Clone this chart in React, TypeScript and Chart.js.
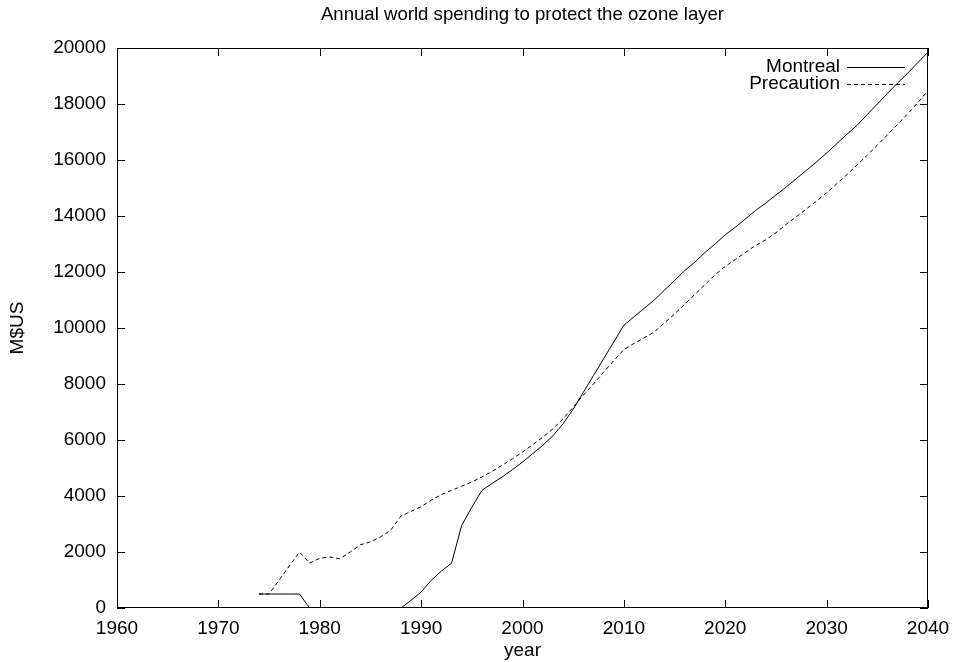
import React, { useEffect, useRef } from "react";
import { Chart, registerables } from "chart.js";

Chart.register(...registerables);

const TITLE = "Annual world spending to protect the ozone layer";
const X_LABEL = "year";
const Y_LABEL = "M$US";
const SERIES_NAMES = ["Montreal", "Precaution"];

const years = [
  1974, 1975, 1976, 1977, 1978, 1979, 1980, 1981, 1982, 1983,
  1984, 1985, 1986, 1987, 1988, 1989, 1990, 1991, 1992, 1993,
  1994, 1995, 1996, 1997, 1998, 1999, 2000, 2001, 2002, 2003,
  2004, 2005, 2006, 2007, 2008, 2009, 2010, 2011, 2012, 2013,
  2014, 2015, 2016, 2017, 2018, 2019, 2020, 2021, 2022, 2023,
  2024, 2025, 2026, 2027, 2028, 2029, 2030, 2031, 2032, 2033,
  2034, 2035, 2036, 2037, 2038, 2039, 2040,
];

const montreal = [
  500, 500, 500, 500, 500, 0, 0, 0, 0, 0,
  0, 0, 0, 0, 0, 275, 570, 990, 1320, 1600,
  2950, 3600, 4200, 4450, 4680, 4940, 5210, 5510, 5810, 6150,
  6580, 7100, 7700, 8300, 8900, 9500, 10100, 10400, 10700, 11000,
  11350, 11700, 12050, 12350, 12700, 13000, 13330, 13600, 13900, 14200,
  14460, 14750, 15030, 15330, 15630, 15930, 16250, 16580, 16920, 17240,
  17620, 18000, 18380, 18750, 19100, 19480, 19850,
];

const precaution = [
  500, 500, 1000, 1500, 2000, 1600, 1780, 1820, 1760, 2000,
  2260, 2360, 2540, 2780, 3280, 3450, 3620, 3850, 4050, 4200,
  4350, 4500, 4680, 4880, 5100, 5330, 5570, 5830, 6100, 6400,
  6760, 7170, 7600, 8000, 8420, 8830, 9230, 9450, 9650, 9860,
  10180, 10500, 10850, 11200, 11550, 11900, 12200, 12450, 12700, 12950,
  13150, 13400, 13700, 13970, 14250, 14530, 14830, 15150, 15480, 15820,
  16170, 16530, 16900, 17270, 17650, 18050, 18480,
];

const X_MIN = 1960;
const X_MAX = 2040;
const X_STEP = 10;
const Y_MIN = 0;
const Y_MAX = 20000;
const Y_STEP = 2000;

const FONT = "'Liberation Sans', Arial, Helvetica, sans-serif";
const FS = 19;
const TITLE_FS = 18.6;

const frameAndLegend = {
  id: "frameAndLegend",
  afterDatasetsDraw(chart: any) {
    const { ctx, chartArea, scales } = chart;
    const { left, right, top, bottom } = chartArea;
    const xs = scales.x;
    const ys = scales.y;
    const L = 8;
    ctx.save();
    ctx.strokeStyle = "#000";
    ctx.lineWidth = 1;
    ctx.setLineDash([]);
    ctx.beginPath();
    xs.ticks.forEach((t: any) => {
      const px = Math.round(xs.getPixelForValue(t.value)) + 0.5;
      ctx.moveTo(px, bottom);
      ctx.lineTo(px, bottom - L);
      ctx.moveTo(px, top);
      ctx.lineTo(px, top + L);
    });
    ys.ticks.forEach((t: any) => {
      const py = Math.round(ys.getPixelForValue(t.value)) + 0.5;
      ctx.moveTo(left, py);
      ctx.lineTo(left + L, py);
      ctx.moveTo(right, py);
      ctx.lineTo(right - L, py);
    });
    ctx.stroke();
    ctx.strokeRect(Math.round(left) + 0.5, Math.round(top) + 0.5, Math.round(right - left) - 1, Math.round(bottom - top) - 1);

    // legend (gnuplot style: label then line sample)
    const textRight = right - 88;
    const lineX1 = right - 81;
    const lineX2 = right - 23;
    ctx.font = `${FS}px ${FONT}`;
    ctx.fillStyle = "#000";
    ctx.textAlign = "right";
    ctx.textBaseline = "middle";
    chart.data.datasets.forEach((ds: any, i: number) => {
      const yy = top + 18.5 + i * 17.5;
      ctx.fillText(ds.label, textRight, yy);
      ctx.beginPath();
      ctx.setLineDash(ds.borderDash || []);
      ctx.strokeStyle = ds.borderColor;
      ctx.lineWidth = ds.borderWidth;
      ctx.moveTo(lineX1, Math.round(yy) + 0.5);
      ctx.lineTo(lineX2, Math.round(yy) + 0.5);
      ctx.stroke();
    });
    ctx.restore();
  },
};

export default function App() {
  const ref = useRef<HTMLCanvasElement | null>(null);

  useEffect(() => {
    if (!ref.current) return;
    const mk = (vals: number[]) => years.map((yr, i) => ({ x: yr, y: vals[i] }));
    const chart = new Chart(ref.current, {
      type: "line",
      data: {
        datasets: [
          {
            label: SERIES_NAMES[0],
            data: mk(montreal),
            borderColor: "#000",
            borderWidth: 1,
            pointRadius: 0,
            tension: 0,
            fill: false,
          },
          {
            label: SERIES_NAMES[1],
            data: mk(precaution),
            borderColor: "#000",
            borderWidth: 1,
            borderDash: [4, 3],
            pointRadius: 0,
            tension: 0,
            fill: false,
          },
        ],
      },
      options: {
        animation: false,
        responsive: false,
        devicePixelRatio: 1,
        layout: { padding: { left: 0, right: 25, top: 0, bottom: 0 } },
        plugins: {
          legend: { display: false },
          tooltip: { enabled: false },
          title: {
            display: true,
            text: TITLE,
            fullSize: false,
            color: "#000",
            font: { family: FONT, size: TITLE_FS, weight: "normal", lineHeight: 1.2 },
            padding: { top: 4, bottom: 48 - 4 - TITLE_FS * 1.2 },
          },
        },
        scales: {
          x: {
            type: "linear",
            min: X_MIN,
            max: X_MAX,
            grid: { display: false, drawTicks: false },
            border: { display: false },
            ticks: {
              stepSize: X_STEP,
              autoSkip: false,
              maxRotation: 0,
              padding: 9,
              color: "#000",
              font: { family: FONT, size: FS },
              callback: (v: any) => String(v),
            },
            title: {
              display: true,
              text: X_LABEL,
              color: "#000",
              font: { family: FONT, size: FS, lineHeight: 1.2 },
              padding: { top: 0, bottom: 0 },
            },
            afterFit: (s: any) => {
              s.height = 54;
              s.paddingLeft = 0;
              s.paddingRight = 0;
            },
          },
          y: {
            type: "linear",
            min: Y_MIN,
            max: Y_MAX,
            grid: { display: false, drawTicks: false },
            border: { display: false },
            ticks: {
              stepSize: Y_STEP,
              autoSkip: false,
              padding: 11,
              color: "#000",
              font: { family: FONT, size: FS },
              callback: (v: any) => String(v),
            },
            title: {
              display: true,
              text: Y_LABEL,
              color: "#000",
              font: { family: FONT, size: FS, lineHeight: 1.2 },
              padding: { top: 6, bottom: 0 },
            },
            afterFit: (s: any) => {
              s.width = 117;
              s.paddingTop = 0;
              s.paddingBottom = 0;
            },
          },
        },
      },
      plugins: [frameAndLegend],
    });
    return () => chart.destroy();
  }, []);

  return (
    <div style={{ position: "absolute", left: 0, top: 0, width: 953, height: 662, background: "#fff" }}>
      <canvas ref={ref} width={953} height={662} />
    </div>
  );
}
